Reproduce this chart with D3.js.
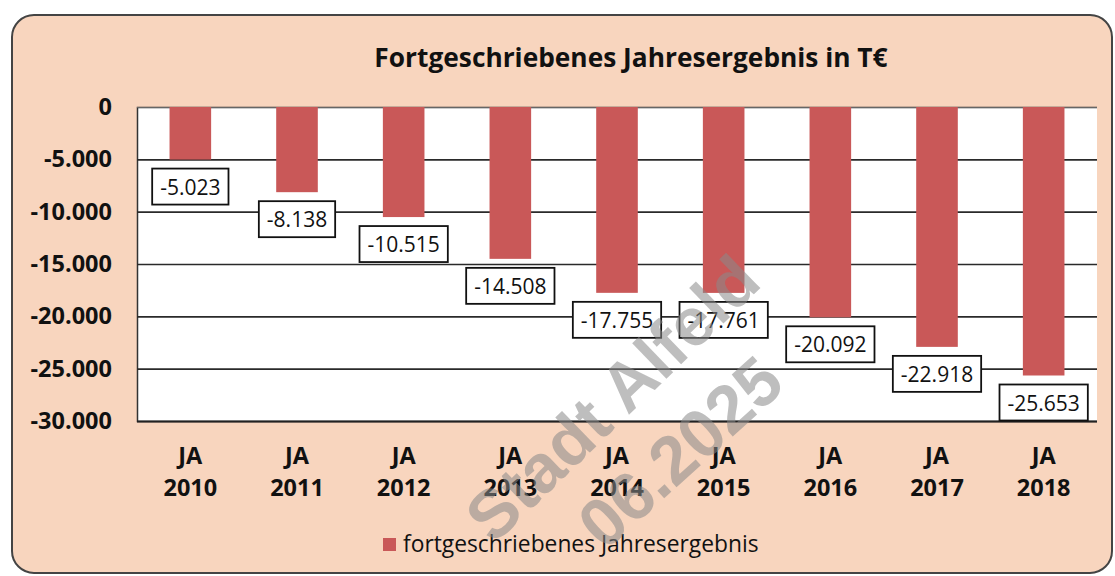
<!DOCTYPE html>
<html><head><meta charset="utf-8">
<script src="https://cdn.jsdelivr.net/npm/d3@7/dist/d3.min.js"></script>
<style>body{margin:0;background:#fff}svg{display:block}</style>
</head><body>
<svg id="c" width="1115" height="576"></svg>
<script>
const categories = ["2010","2011","2012","2013","2014","2015","2016","2017","2018"];
const values = [-5023,-8138,-10515,-14508,-17755,-17761,-20092,-22918,-25653];
const yTicks = [0,-5000,-10000,-15000,-20000,-25000,-30000];
const title = "Fortgeschriebenes Jahresergebnis in T€";
const seriesName = "fortgeschriebenes Jahresergebnis";
const catPrefix = "JA";
const watermarkLines = ["Stadt Alfeld","06.2025"];

const svg = d3.select("#c");
const FONT = "'Open Sans', 'Noto Sans', sans-serif";
const barColor = "#c95858";

svg.append("rect").attr("x",12).attr("y",15).attr("width",1100).attr("height",558)
  .attr("rx",22).attr("fill","#f8d5be").attr("stroke","#444").attr("stroke-width",2);

const m = {l:137, r:1097, t:107, b:421};
const x = d3.scaleBand().domain(categories).range([m.l,m.r]).paddingInner(0.61).paddingOuter(0.305);
const y = d3.scaleLinear().domain([-30000,0]).range([m.b,m.t]);

svg.append("rect").attr("x",m.l).attr("y",m.t).attr("width",m.r-m.l).attr("height",m.b-m.t).attr("fill","#fff");

const fmt = d => d3.format(",")(d).replace(/,/g,".").replace("−","-");

// gridlines + y axis
const yAxis = d3.axisLeft(y).tickValues(yTicks).tickSize(-(m.r-m.l)).tickFormat(fmt);
const ga = svg.append("g").attr("transform",`translate(${m.l},0)`).call(yAxis);
ga.select(".domain").attr("stroke","#333").attr("stroke-width",1.5);
ga.selectAll(".tick line").attr("stroke","#2a2a2a").attr("stroke-width",1.6);
ga.selectAll(".tick").filter(d=>d===0).select("line").attr("stroke","#666").attr("stroke-width",1.2);
ga.selectAll(".tick").filter(d=>d===-30000).select("line").attr("stroke","#222").attr("stroke-width",2.2);
ga.selectAll(".tick text").attr("x",-25).attr("font-family",FONT).attr("font-weight","bold")
  .attr("font-size",23.5).attr("fill","#111");

// bars
svg.append("g").selectAll("rect").data(values).join("rect")
  .attr("x",(d,i)=>x(categories[i])).attr("width",x.bandwidth())
  .attr("y",y(0)).attr("height",d=>y(d)-y(0)).attr("fill",barColor);

// data labels
const lg = svg.append("g");
values.forEach((v,i)=>{
  const cx = x(categories[i]) + x.bandwidth()/2;
  const top = y(v) + 9;
  const g = lg.append("g");
  const t = g.append("text").attr("x",cx).attr("y",top+26).attr("text-anchor","middle")
    .attr("font-family",FONT).attr("font-size",21).attr("fill","#111").text(fmt(v));
  const w = t.node().getComputedTextLength() + 16;
  g.insert("rect","text").attr("x",cx-w/2).attr("y",top).attr("width",w).attr("height",36)
    .attr("fill","#fff").attr("stroke","#111").attr("stroke-width",1.8);
});

// x labels
const xl = svg.append("g");
categories.forEach(c=>{
  const cx = x(c)+x.bandwidth()/2;
  const t = xl.append("text").attr("text-anchor","middle").attr("font-family",FONT)
    .attr("font-weight","bold").attr("font-size",23.5).attr("fill","#111");
  t.append("tspan").attr("x",cx).attr("y",464).text(catPrefix);
  t.append("tspan").attr("x",cx).attr("y",496).text(c);
});

// title
svg.append("text").attr("x",631).attr("y",67).attr("text-anchor","middle").attr("font-family",FONT)
  .attr("font-weight","bold").attr("font-size",26.3).attr("fill","#111").text(title);

// legend
svg.append("rect").attr("x",383).attr("y",538).attr("width",13).attr("height",13).attr("fill",barColor);
svg.append("text").attr("x",403).attr("y",552).attr("font-family",FONT).attr("font-size",22.8)
  .attr("fill","#111").text(seriesName);

// watermark
const wm = svg.append("g").attr("fill","#8a8a8a").attr("opacity",0.55)
  .attr("font-family","'Liberation Sans', Arial, sans-serif").attr("font-weight","bold").attr("font-size",68);
wm.append("text").attr("transform","translate(612,398) rotate(-44)").attr("text-anchor","middle").attr("dy","0.35em").text(watermarkLines[0]);
wm.append("text").attr("transform","translate(680,452) rotate(-42)").attr("text-anchor","middle").attr("dy","0.35em").text(watermarkLines[1]);
</script>
</body></html>
